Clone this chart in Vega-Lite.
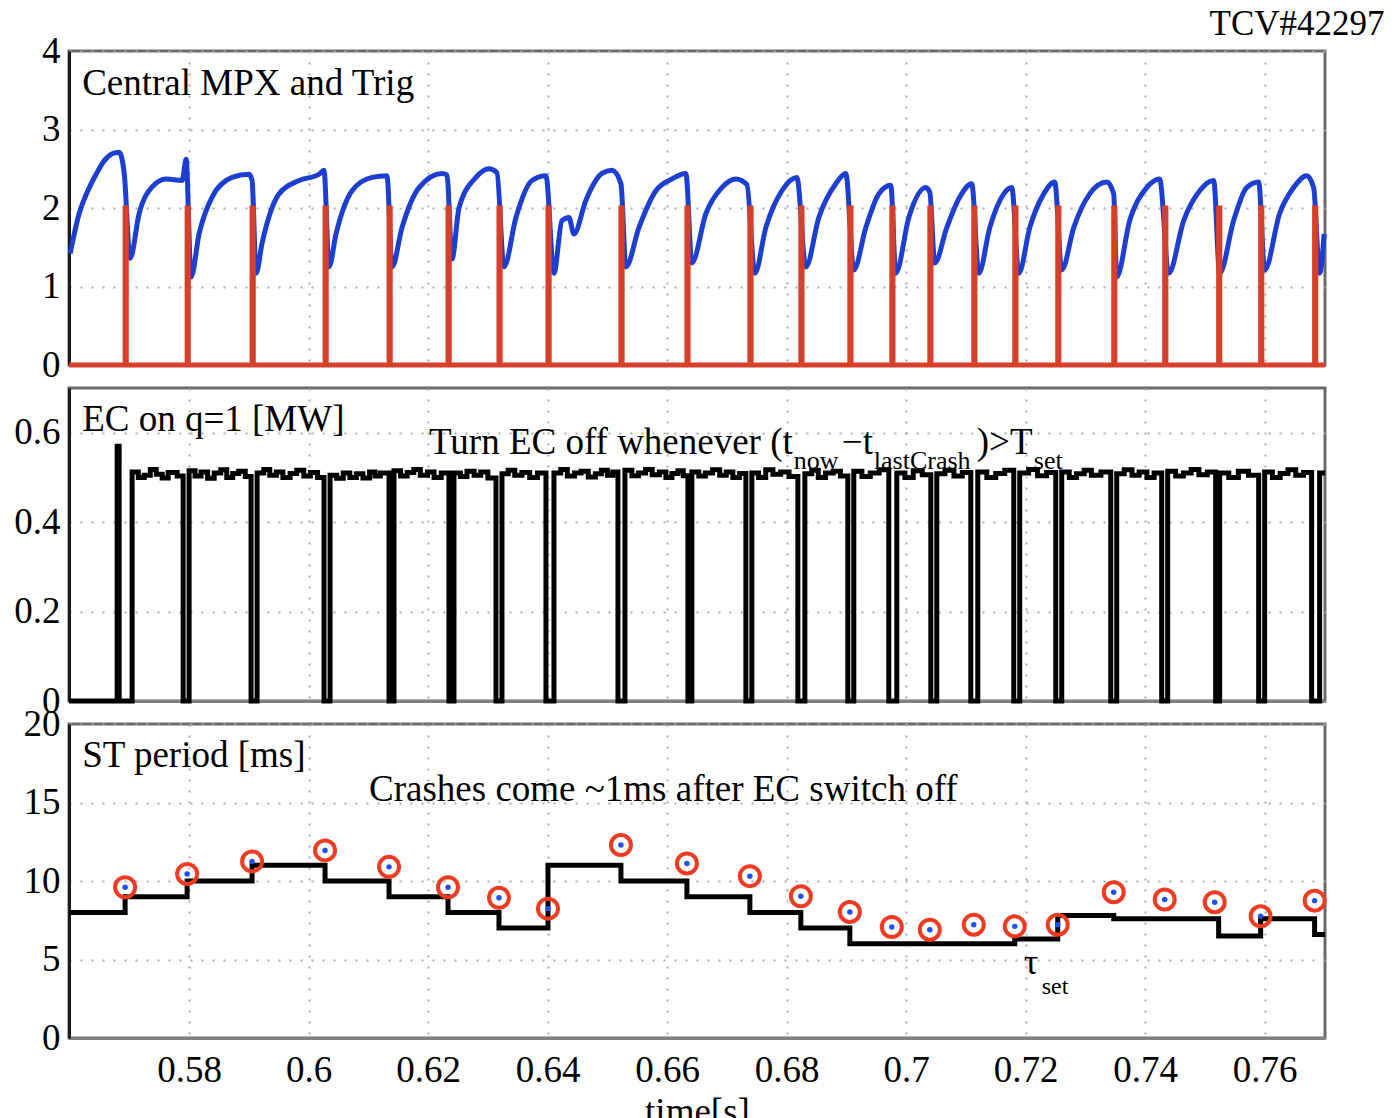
{
  "$schema": "https://vega.github.io/schema/vega-lite/v6.json",
  "padding": {"left": 12, "top": 5, "right": 5, "bottom": 5},
  "background": "white",
  "spacing": 23,
  "bounds": "flush",
  "config": {
    "font": "Liberation Serif",
    "view": {"stroke": "#6a6a6a", "strokeWidth": 3},
    "axis": {"grid": true, "gridColor": "#aaaaaa", "gridDash": [2, 9], "gridWidth": 2, "ticks": false, "labelFont": "Liberation Serif", "labelFontSize": 37, "labelColor": "#000000", "labelFlush": false, "domainWidth": 3, "titleFont": "Liberation Serif", "titleFontSize": 37, "titleFontWeight": "normal", "titleColor": "#000000"},
    "axisY": {"domainColor": "#1a1a1a", "labelPadding": 9},
    "axisX": {"domainColor": "#808080", "labelPadding": 14}
  },
  "datasets": {
    "mpx": [
      {"t":0.56009,"v":1.42},{"t":0.56160,"v":1.93},{"t":0.56294,"v":2.2},{"t":0.56444,"v":2.43},{"t":0.56578,"v":2.6},{"t":0.56712,"v":2.69},{"t":0.56829,"v":2.71},{"t":0.56913,"v":2.45},{"t":0.57013,"v":1.36},
      {"t":0.57164,"v":1.93},{"t":0.57381,"v":2.27},{"t":0.57615,"v":2.37},{"t":0.57883,"v":2.35},{"t":0.57950,"v":2.62},{"t":0.58033,"v":1.12},
      {"t":0.58167,"v":1.67},{"t":0.58385,"v":2.14},{"t":0.58719,"v":2.39},{"t":0.59004,"v":2.43},{"t":0.59054,"v":2.35},{"t":0.59121,"v":1.17},
      {"t":0.59221,"v":1.55},{"t":0.59506,"v":2.18},{"t":0.59840,"v":2.35},{"t":0.60175,"v":2.43},{"t":0.60258,"v":2.48},{"t":0.60342,"v":1.25},
      {"t":0.60459,"v":1.67},{"t":0.60727,"v":2.22},{"t":0.61061,"v":2.39},{"t":0.61312,"v":2.41},{"t":0.61396,"v":1.25},
      {"t":0.61563,"v":1.75},{"t":0.61848,"v":2.26},{"t":0.62232,"v":2.44},{"t":0.62316,"v":2.42},{"t":0.62400,"v":1.35},
      {"t":0.62517,"v":2.0},{"t":0.62801,"v":2.39},{"t":0.63019,"v":2.5},{"t":0.63152,"v":2.45},{"t":0.63270,"v":1.25},
      {"t":0.63470,"v":1.88},{"t":0.63738,"v":2.35},{"t":0.63972,"v":2.41},{"t":0.64106,"v":1.17},
      {"t":0.64240,"v":1.84},{"t":0.64357,"v":1.88},{"t":0.64440,"v":1.67},{"t":0.64641,"v":2.1},{"t":0.64909,"v":2.44},{"t":0.65076,"v":2.48},{"t":0.65227,"v":2.31},{"t":0.65310,"v":1.25},
      {"t":0.65528,"v":1.75},{"t":0.65812,"v":2.22},{"t":0.66080,"v":2.37},{"t":0.66314,"v":2.44},{"t":0.66414,"v":1.3},
      {"t":0.66649,"v":1.93},{"t":0.66916,"v":2.26},{"t":0.67151,"v":2.37},{"t":0.67335,"v":2.3},{"t":0.67468,"v":1.17},
      {"t":0.67652,"v":1.75},{"t":0.67920,"v":2.22},{"t":0.68171,"v":2.39},{"t":0.68322,"v":1.25},
      {"t":0.68539,"v":1.88},{"t":0.68823,"v":2.31},{"t":0.68991,"v":2.44},{"t":0.69124,"v":1.21},
      {"t":0.69325,"v":1.75},{"t":0.69543,"v":2.18},{"t":0.69743,"v":2.29},{"t":0.69827,"v":1.17},
      {"t":0.70045,"v":1.88},{"t":0.70329,"v":2.26},{"t":0.70396,"v":2.2},{"t":0.70479,"v":1.3},
      {"t":0.70680,"v":1.75},{"t":0.70898,"v":2.14},{"t":0.71098,"v":2.31},{"t":0.71216,"v":1.17},
      {"t":0.71400,"v":1.75},{"t":0.71634,"v":2.18},{"t":0.71768,"v":2.26},{"t":0.71885,"v":1.17},
      {"t":0.72069,"v":1.75},{"t":0.72303,"v":2.18},{"t":0.72487,"v":2.33},{"t":0.72604,"v":1.21},
      {"t":0.72805,"v":1.75},{"t":0.73072,"v":2.18},{"t":0.73357,"v":2.33},{"t":0.73474,"v":2.18},{"t":0.73524,"v":1.12},
      {"t":0.73742,"v":1.84},{"t":0.74026,"v":2.26},{"t":0.74243,"v":2.37},{"t":0.74394,"v":1.17},
      {"t":0.74645,"v":1.84},{"t":0.74913,"v":2.22},{"t":0.75147,"v":2.35},{"t":0.75247,"v":1.17},
      {"t":0.75481,"v":1.84},{"t":0.75699,"v":2.26},{"t":0.75900,"v":2.33},{"t":0.76000,"v":1.21},
      {"t":0.76251,"v":1.93},{"t":0.76485,"v":2.26},{"t":0.76703,"v":2.41},{"t":0.76820,"v":2.26},{"t":0.76920,"v":1.17},{"t":0.76995,"v":1.67}
    ],
    "trig": [
      {"t":0.5599,"v":0},
      {"t":0.56929,"v":2},{"t":0.56949,"v":0},
      {"t":0.57967,"v":2},{"t":0.57987,"v":0},
      {"t":0.59054,"v":2},{"t":0.59074,"v":0},
      {"t":0.60275,"v":2},{"t":0.60295,"v":0},
      {"t":0.61346,"v":2},{"t":0.61366,"v":0},
      {"t":0.62333,"v":2},{"t":0.62353,"v":0},
      {"t":0.63186,"v":2},{"t":0.63206,"v":0},
      {"t":0.64006,"v":2},{"t":0.64026,"v":0},
      {"t":0.65227,"v":2},{"t":0.65247,"v":0},
      {"t":0.66331,"v":2},{"t":0.66351,"v":0},
      {"t":0.67385,"v":2},{"t":0.67405,"v":0},
      {"t":0.68238,"v":2},{"t":0.68258,"v":0},
      {"t":0.69058,"v":2},{"t":0.69078,"v":0},
      {"t":0.69760,"v":2},{"t":0.69780,"v":0},
      {"t":0.70396,"v":2},{"t":0.70416,"v":0},
      {"t":0.71132,"v":2},{"t":0.71152,"v":0},
      {"t":0.71818,"v":2},{"t":0.71838,"v":0},
      {"t":0.72537,"v":2},{"t":0.72557,"v":0},
      {"t":0.73474,"v":2},{"t":0.73494,"v":0},
      {"t":0.74327,"v":2},{"t":0.74347,"v":0},
      {"t":0.75230,"v":2},{"t":0.75250,"v":0},
      {"t":0.75933,"v":2},{"t":0.75953,"v":0},
      {"t":0.76836,"v":2},{"t":0.76856,"v":0},
      {"t":0.7701,"v":0}
    ],
    "ec": [
      {"t":0.5599,"v":0},
      {"t":0.56796,"v":0.57},{"t":0.56829,"v":0},
      {"t":0.57046,"v":0.512},{"t":0.57150,"v":0.5},{"t":0.57250,"v":0.505},{"t":0.57350,"v":0.518},{"t":0.57450,"v":0.507},{"t":0.57550,"v":0.499},{"t":0.57650,"v":0.511},{"t":0.57800,"v":0.503},{"t":0.57900,"v":0},
      {"t":0.58000,"v":0.515},{"t":0.58100,"v":0.503},{"t":0.58200,"v":0.512},{"t":0.58310,"v":0.498},{"t":0.58420,"v":0.51},{"t":0.58530,"v":0.517},{"t":0.58630,"v":0.5},{"t":0.58730,"v":0.509},{"t":0.58830,"v":0.514},{"t":0.58940,"v":0.502},{"t":0.59037,"v":0},
      {"t":0.59138,"v":0.51},{"t":0.59250,"v":0.518},{"t":0.59350,"v":0.505},{"t":0.59460,"v":0.512},{"t":0.59570,"v":0.5},{"t":0.59690,"v":0.509},{"t":0.59800,"v":0.516},{"t":0.59920,"v":0.503},{"t":0.60030,"v":0.511},{"t":0.60150,"v":0.5},{"t":0.60258,"v":0},
      {"t":0.60359,"v":0.505},{"t":0.60470,"v":0.498},{"t":0.60580,"v":0.51},{"t":0.60690,"v":0.5},{"t":0.60800,"v":0.508},{"t":0.60910,"v":0.499},{"t":0.61020,"v":0.512},{"t":0.61110,"v":0.503},{"t":0.61200,"v":0.51},{"t":0.61346,"v":0},
      {"t":0.61429,"v":0.515},{"t":0.61540,"v":0.503},{"t":0.61650,"v":0.511},{"t":0.61760,"v":0.518},{"t":0.61870,"v":0.505},{"t":0.61990,"v":0.512},{"t":0.62100,"v":0.5},{"t":0.62220,"v":0.51},{"t":0.62349,"v":0},
      {"t":0.62433,"v":0.51},{"t":0.62540,"v":0.502},{"t":0.62650,"v":0.514},{"t":0.62770,"v":0.505},{"t":0.62880,"v":0.512},{"t":0.63000,"v":0.499},{"t":0.63136,"v":0},
      {"t":0.63236,"v":0.508},{"t":0.63340,"v":0.516},{"t":0.63450,"v":0.505},{"t":0.63570,"v":0.511},{"t":0.63700,"v":0.5},{"t":0.63830,"v":0.51},{"t":0.63972,"v":0},
      {"t":0.64106,"v":0.51},{"t":0.64220,"v":0.518},{"t":0.64330,"v":0.503},{"t":0.64450,"v":0.51},{"t":0.64560,"v":0.514},{"t":0.64680,"v":0.501},{"t":0.64800,"v":0.508},{"t":0.64900,"v":0.516},{"t":0.65000,"v":0.505},{"t":0.65090,"v":0.512},{"t":0.65177,"v":0},
      {"t":0.65294,"v":0.516},{"t":0.65410,"v":0.504},{"t":0.65520,"v":0.51},{"t":0.65640,"v":0.518},{"t":0.65750,"v":0.506},{"t":0.65870,"v":0.512},{"t":0.65980,"v":0.5},{"t":0.66080,"v":0.509},{"t":0.66180,"v":0.515},{"t":0.66270,"v":0.504},{"t":0.66348,"v":0},
      {"t":0.66414,"v":0.512},{"t":0.66530,"v":0.503},{"t":0.66640,"v":0.51},{"t":0.66760,"v":0.517},{"t":0.66880,"v":0.505},{"t":0.66990,"v":0.512},{"t":0.67100,"v":0.5},{"t":0.67210,"v":0.509},{"t":0.67318,"v":0},
      {"t":0.67418,"v":0.51},{"t":0.67530,"v":0.5},{"t":0.67650,"v":0.517},{"t":0.67770,"v":0.507},{"t":0.67900,"v":0.512},{"t":0.68040,"v":0.502},{"t":0.68188,"v":0},
      {"t":0.68305,"v":0.508},{"t":0.68420,"v":0.516},{"t":0.68530,"v":0.5},{"t":0.68650,"v":0.51},{"t":0.68780,"v":0.514},{"t":0.68900,"v":0.503},{"t":0.69024,"v":0},
      {"t":0.69124,"v":0.514},{"t":0.69260,"v":0.502},{"t":0.69400,"v":0.51},{"t":0.69550,"v":0.517},{"t":0.69710,"v":0},
      {"t":0.69844,"v":0.51},{"t":0.69980,"v":0.5},{"t":0.70120,"v":0.515},{"t":0.70270,"v":0.506},{"t":0.70413,"v":0},
      {"t":0.70513,"v":0.508},{"t":0.70650,"v":0.516},{"t":0.70800,"v":0.503},{"t":0.70940,"v":0.511},{"t":0.71082,"v":0},
      {"t":0.71199,"v":0.512},{"t":0.71350,"v":0.5},{"t":0.71500,"v":0.509},{"t":0.71650,"v":0.516},{"t":0.71801,"v":0},
      {"t":0.71901,"v":0.51},{"t":0.72050,"v":0.518},{"t":0.72200,"v":0.504},{"t":0.72350,"v":0.511},{"t":0.72504,"v":0},
      {"t":0.72604,"v":0.512},{"t":0.72730,"v":0.5},{"t":0.72850,"v":0.508},{"t":0.72980,"v":0.516},{"t":0.73100,"v":0.505},{"t":0.73260,"v":0.512},{"t":0.73424,"v":0},
      {"t":0.73524,"v":0.508},{"t":0.73650,"v":0.517},{"t":0.73780,"v":0.505},{"t":0.73900,"v":0.512},{"t":0.74030,"v":0.5},{"t":0.74150,"v":0.51},{"t":0.74277,"v":0},
      {"t":0.74377,"v":0.514},{"t":0.74510,"v":0.503},{"t":0.74640,"v":0.51},{"t":0.74770,"v":0.518},{"t":0.74900,"v":0.506},{"t":0.75040,"v":0.512},{"t":0.75180,"v":0},
      {"t":0.75247,"v":0.51},{"t":0.75400,"v":0.5},{"t":0.75560,"v":0.514},{"t":0.75730,"v":0.505},{"t":0.75900,"v":0},
      {"t":0.76000,"v":0.512},{"t":0.76130,"v":0.5},{"t":0.76260,"v":0.509},{"t":0.76390,"v":0.517},{"t":0.76520,"v":0.505},{"t":0.76650,"v":0.511},{"t":0.76786,"v":0},
      {"t":0.76920,"v":0.51},{"t":0.7701,"v":0.51}
    ],
    "period": [
      {"t":0.56929,"v":9.6},{"t":0.57967,"v":10.45},{"t":0.59054,"v":11.25},{"t":0.60275,"v":11.95},{"t":0.61346,"v":10.9},{"t":0.62333,"v":9.6},
      {"t":0.63186,"v":8.93},{"t":0.64006,"v":8.24},{"t":0.65227,"v":12.29},{"t":0.66331,"v":11.12},{"t":0.67385,"v":10.31},{"t":0.68238,"v":9.03},
      {"t":0.69058,"v":8.03},{"t":0.69760,"v":7.07},{"t":0.70396,"v":6.9},{"t":0.71132,"v":7.22},{"t":0.71818,"v":7.11},{"t":0.72537,"v":7.22},
      {"t":0.73474,"v":9.29},{"t":0.74327,"v":8.82},{"t":0.75164,"v":8.65},{"t":0.75933,"v":7.75},{"t":0.76836,"v":8.75}
    ],
    "tau": [
      {"t":0.5599,"v":8.0},{"t":0.56929,"v":9.0},{"t":0.57967,"v":10.0},{"t":0.59054,"v":11.0},{"t":0.60275,"v":10.0},{"t":0.61346,"v":9.0},
      {"t":0.62333,"v":8.0},{"t":0.63186,"v":7.0},{"t":0.64006,"v":11.0},{"t":0.65227,"v":10.0},{"t":0.66331,"v":9.0},{"t":0.67385,"v":8.0},
      {"t":0.68238,"v":7.0},{"t":0.69058,"v":6.0},{"t":0.71818,"v":6.3},{"t":0.72537,"v":7.8},{"t":0.73474,"v":7.6},{"t":0.75230,"v":6.5},
      {"t":0.75933,"v":7.6},{"t":0.76836,"v":6.6},{"t":0.7701,"v":6.6}
    ],
    "ann1": [{"t":0.5621,"v":3.44,"label":"Central MPX and Trig"}],
    "tcv": [{"t":0.78007,"v":4.21,"label":"TCV#42297"}],
    "ann2main": [
      {"t":0.5621,"v":0.604,"label":"EC on q=1 [MW]"},
      {"t":0.62015,"v":0.552,"label":"Turn EC off whenever (t"},
      {"t":0.68924,"v":0.552,"label":"−t"},
      {"t":0.71182,"v":0.552,"label":")>T"}
    ],
    "ann2sub": [
      {"t":0.68121,"v":0.519,"label":"now"},
      {"t":0.69459,"v":0.519,"label":"lastCrash"},
      {"t":0.72136,"v":0.519,"label":"set"}
    ],
    "ann3main": [
      {"t":0.5621,"v":17.25,"label":"ST period [ms]"},
      {"t":0.61011,"v":15.12,"label":"Crashes come ~1ms after EC switch off"}
    ],
    "ann3tau": [{"t":0.71968,"v":4.08,"label":"τ"}],
    "ann3sub": [{"t":0.72269,"v":2.81,"label":"set"}]
  },
  "vconcat": [
    {
      "width": 1256,
      "height": 314,
      "encoding": {
        "x": {"field": "t", "type": "quantitative", "scale": {"domain": [0.5599, 0.7701], "nice": false, "zero": false}, "axis": {"values": [0.58,0.6,0.62,0.64,0.66,0.68,0.7,0.72,0.74,0.76], "labels": false, "title": null}},
        "y": {"field": "v", "type": "quantitative", "scale": {"domain": [0, 4], "nice": false, "zero": false}, "axis": {"values": [0,1,2,3,4], "title": null}}
      },
      "layer": [
        {"data": {"name": "mpx"}, "mark": {"type": "line", "color": "#1d3fd1", "strokeWidth": 5, "interpolate": "monotone"}, "encoding": {}},
        {"data": {"name": "trig"}, "mark": {"type": "line", "color": "#d6402a", "strokeWidth": 5, "interpolate": "step-after"}, "encoding": {}},
        {"data": {"name": "ann1"}, "mark": {"type": "text", "align": "left", "baseline": "alphabetic", "fontSize": 37, "font": "Liberation Serif", "color": "#000000"}, "encoding": {"text": {"field": "label"}}},
        {"data": {"name": "tcv"}, "mark": {"type": "text", "align": "right", "baseline": "alphabetic", "fontSize": 35, "font": "Liberation Serif", "color": "#000000"}, "encoding": {"text": {"field": "label"}}}
      ]
    },
    {
      "width": 1256,
      "height": 313,
      "encoding": {
        "x": {"field": "t", "type": "quantitative", "scale": {"domain": [0.5599, 0.7701], "nice": false, "zero": false}, "axis": {"values": [0.58,0.6,0.62,0.64,0.66,0.68,0.7,0.72,0.74,0.76], "labels": false, "title": null}},
        "y": {"field": "v", "type": "quantitative", "scale": {"domain": [0, 0.7], "nice": false, "zero": false}, "axis": {"values": [0,0.2,0.4,0.6], "format": "~g", "title": null}}
      },
      "layer": [
        {"data": {"name": "ec"}, "mark": {"type": "line", "color": "#000000", "strokeWidth": 5, "interpolate": "step-after"}, "encoding": {}},
        {"data": {"name": "ann2main"}, "mark": {"type": "text", "align": "left", "baseline": "alphabetic", "fontSize": 37, "font": "Liberation Serif", "color": "#000000"}, "encoding": {"text": {"field": "label"}}},
        {"data": {"name": "ann2sub"}, "mark": {"type": "text", "align": "left", "baseline": "alphabetic", "fontSize": 26, "font": "Liberation Serif", "color": "#000000"}, "encoding": {"text": {"field": "label"}}}
      ]
    },
    {
      "width": 1256,
      "height": 314,
      "encoding": {
        "x": {"field": "t", "type": "quantitative", "scale": {"domain": [0.5599, 0.7701], "nice": false, "zero": false}, "axis": {"values": [0.58,0.6,0.62,0.64,0.66,0.68,0.7,0.72,0.74,0.76], "format": "~g", "title": "time[s]", "titlePadding": 6}},
        "y": {"field": "v", "type": "quantitative", "scale": {"domain": [0, 20], "nice": false, "zero": false}, "axis": {"values": [0,5,10,15,20], "title": null}}
      },
      "layer": [
        {"data": {"name": "tau"}, "mark": {"type": "line", "color": "#000000", "strokeWidth": 5, "interpolate": "step-after"}, "encoding": {}},
        {"data": {"name": "period"}, "mark": {"type": "point", "shape": "circle", "size": 400, "filled": false, "stroke": "#f03a22", "strokeWidth": 4, "opacity": 1}, "encoding": {}},
        {"data": {"name": "period"}, "mark": {"type": "point", "shape": "circle", "size": 30, "filled": true, "color": "#1f4fff", "opacity": 1}, "encoding": {}},
        {"data": {"name": "ann3main"}, "mark": {"type": "text", "align": "left", "baseline": "alphabetic", "fontSize": 37, "font": "Liberation Serif", "color": "#000000"}, "encoding": {"text": {"field": "label"}}},
        {"data": {"name": "ann3tau"}, "mark": {"type": "text", "align": "left", "baseline": "alphabetic", "fontSize": 36, "font": "Liberation Serif", "color": "#000000"}, "encoding": {"text": {"field": "label"}}},
        {"data": {"name": "ann3sub"}, "mark": {"type": "text", "align": "left", "baseline": "alphabetic", "fontSize": 24, "font": "Liberation Serif", "color": "#000000"}, "encoding": {"text": {"field": "label"}}}
      ]
    }
  ]
}
